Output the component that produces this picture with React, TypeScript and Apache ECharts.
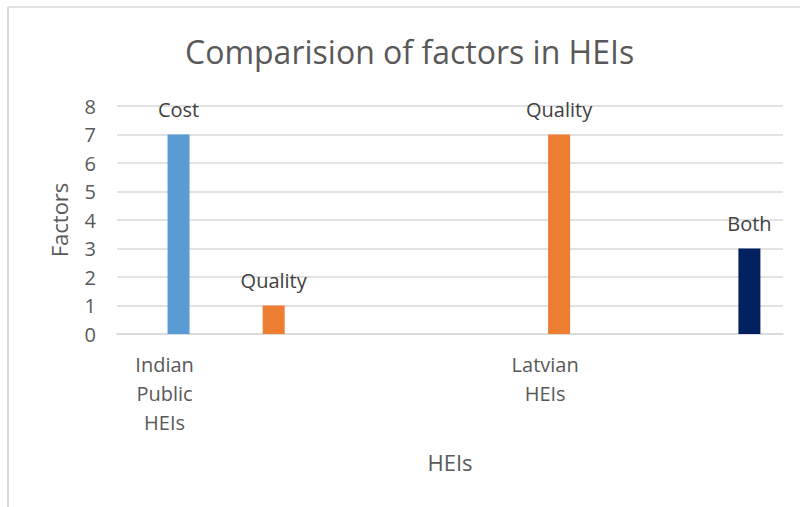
import React, { useEffect, useRef } from "react";
import * as echarts from "echarts";

const chartTitle = "Comparision of factors in HEIs";
const xAxisTitle = "HEIs";
const yAxisTitle = "Factors";

const categories = ["Indian\nPublic\nHEIs", "", "", "", "Latvian\nHEIs", "", ""];
const factorValues: (number | null)[] = [7, 1, null, null, 7, null, 3];
const factorLabels = ["Cost", "Quality", "", "", "Quality", "", "Both"];
const factorColors: (string | null)[] = ["#5B9BD5", "#ED7D31", null, null, "#ED7D31", null, "#002060"];
const spacerValues: (number | null)[] = [null, null, null, null, null, null, null];

const yMin = 0;
const yMax = 8;
const yStep = 1;

const FONT = "'Open Sans', 'Noto Sans', sans-serif";
const TEXT = "#595959";
const GRID = "#D9D9D9";

export default function App() {
  const ref = useRef<HTMLDivElement>(null);

  useEffect(() => {
    document.body.style.margin = "0";
    if (!ref.current) return;
    const chart = echarts.init(ref.current, undefined, { renderer: "svg" });
    chart.setOption({
      animation: false,
      backgroundColor: "#ffffff",
      textStyle: { fontFamily: FONT },
      title: {
        text: chartTitle,
        left: 185,
        top: 35,
        padding: 0,
        textStyle: { fontFamily: FONT, fontSize: 32, fontWeight: "normal", color: TEXT },
      },
      graphic: [
        { type: "line", shape: { x1: 8, y1: 7, x2: 800, y2: 7 }, style: { stroke: GRID, lineWidth: 1.5 } },
        { type: "line", shape: { x1: 8, y1: 7, x2: 8, y2: 507 }, style: { stroke: GRID, lineWidth: 2 } },
      ],
      grid: { left: 117, right: 17, top: 106, bottom: 173, containLabel: false },
      xAxis: {
        type: "category",
        data: categories,
        name: xAxisTitle,
        nameLocation: "middle",
        nameGap: 117,
        nameTextStyle: { fontFamily: FONT, fontSize: 22, color: TEXT },
        axisLine: { show: true, lineStyle: { color: GRID, width: 1.5 } },
        axisTick: { show: false },
        axisLabel: {
          interval: 0,
          margin: 16,
          fontFamily: FONT,
          fontSize: 20,
          lineHeight: 29,
          color: TEXT,
          align: "center",
        },
      },
      yAxis: {
        type: "value",
        min: yMin,
        max: yMax,
        interval: yStep,
        name: yAxisTitle,
        nameLocation: "middle",
        nameGap: 47,
        nameTextStyle: { fontFamily: FONT, fontSize: 22, color: TEXT },
        axisLine: { show: false },
        axisTick: { show: false },
        axisLabel: { margin: 21, fontFamily: FONT, fontSize: 20, color: TEXT },
        splitLine: { show: true, lineStyle: { color: GRID, width: 1.5 } },
      },
      series: [
        {
          type: "bar",
          name: "spacer",
          data: spacerValues,
          barWidth: 22,
          barGap: "27%",
          silent: true,
        },
        {
          type: "bar",
          name: "Factors",
          barWidth: 22,
          barGap: "27%",
          data: factorValues.map((v, i) => ({
            value: v,
            itemStyle: { color: factorColors[i] || "#5B9BD5" },
          })),
          label: {
            show: true,
            position: "top",
            distance: 15,
            fontFamily: FONT,
            fontSize: 20,
            color: "#404040",
            formatter: (p: any) => factorLabels[p.dataIndex] || "",
          },
        },
      ],
    });
    return () => chart.dispose();
  }, []);

  return <div ref={ref} style={{ position: "fixed", left: 0, top: 0, width: 800, height: 507 }} />;
}
